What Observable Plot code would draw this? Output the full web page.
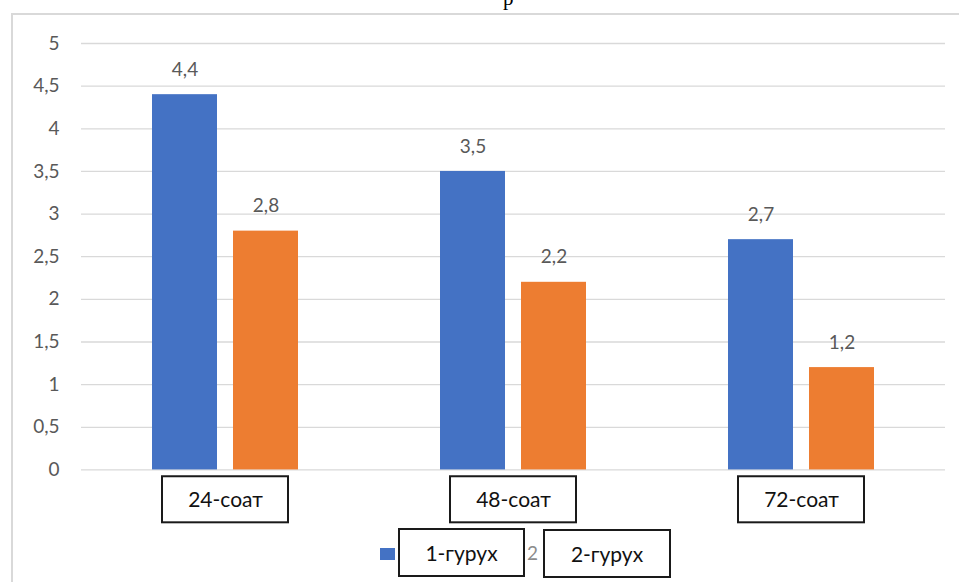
<!DOCTYPE html>
<html>
<head>
<meta charset="utf-8">
<script src="https://cdn.jsdelivr.net/npm/d3@7"></script>
<script src="https://cdn.jsdelivr.net/npm/@observablehq/plot@0.6"></script>
<style>
  html, body { margin: 0; padding: 0; background: #fff; }
  #wrap { position: relative; width: 959px; height: 582px; overflow: hidden; font-family: Lato, "Noto Sans", sans-serif; }
  #border { position: absolute; left: 11px; top: 13px; width: 960px; height: 600px; border-left: 2px solid #d9d9d9; border-top: 2px solid #d9d9d9; }
  #title { position: absolute; left: 503px; top: -14px; font-family: "Liberation Serif", serif; font-size: 21px; color: #000; }
  #chart { position: absolute; left: 0; top: 0; }
  .lbox { position: absolute; box-sizing: border-box; border: 2px solid #1a1a1a; background: #fff; color: #111; font-size: 21px; display: flex; align-items: center; justify-content: center; }
  .sw { position: absolute; }
</style>
</head>
<body>
<div id="wrap">
  <div id="border"></div>
  <div id="title">р</div>
  <div id="chart"></div>
  <div id="legend"></div>
</div>
<script>
const categories = ["24-соат", "48-соат", "72-соат"];
const series = ["1-гурух", "2-гурух"];
const group1 = [4.4, 3.5, 2.7];
const group2 = [2.8, 2.2, 1.2];
const yTicks = [0, 0.5, 1, 1.5, 2, 2.5, 3, 3.5, 4, 4.5, 5];
const colors = ["#4472C4", "#ED7D31"];

const data = [];
categories.forEach((c, i) => {
  data.push({cat: c, series: series[0], value: group1[i]});
  data.push({cat: c, series: series[1], value: group2[i]});
});
const fmt = v => String(v).replace(".", ",");

const chart = Plot.plot({
  width: 959,
  height: 527,
  marginTop: 43,
  marginBottom: 0,
  marginLeft: 81,
  marginRight: 14,
  style: {background: "transparent", color: "#595959", fontSize: "19px", fontFamily: "Lato, 'Noto Sans', sans-serif"},
  fx: {domain: categories, padding: 0, axis: null, label: null},
  x: {domain: series, paddingInner: 0.1975, paddingOuter: 0.8765, axis: null},
  y: {domain: [-0.675, 5], ticks: yTicks, tickFormat: fmt, tickSize: 0, tickPadding: 22, label: null},
  color: {domain: series, range: colors},
  marks: [
    Plot.ruleY(yTicks, {stroke: "#d9d9d9", strokeWidth: 1.3}),
    Plot.barY(data, {fx: "cat", x: "series", y: "value", fill: "series"}),
    Plot.text(data, {fx: "cat", x: "series", y: "value", text: d => fmt(d.value), dy: -25, fill: "#595959", fontSize: 19}),
    Plot.barY(categories, {fx: d => d, y1: -0.08, y2: -0.62, fill: "white", stroke: "#1a1a1a", strokeWidth: 2, insetLeft: 81, insetRight: 81}),
    Plot.text(categories, {fx: d => d, y: -0.35, text: d => d, fill: "#111", fontSize: 21})
  ]
});
document.getElementById("chart").appendChild(chart);

// Legend (HTML, below/over the bottom of the chart)
const legend = document.getElementById("legend");
const sw = document.createElement("div");
sw.className = "sw";
sw.style.cssText = `left:380px;top:548px;width:15px;height:12px;background:${colors[0]}`;
legend.appendChild(sw);
const sw2 = document.createElement("div");
sw2.className = "sw";
sw2.style.cssText = `left:548px;top:548px;width:15px;height:12px;background:${colors[1]}`;
legend.appendChild(sw2);
const b1 = document.createElement("div");
b1.className = "lbox";
b1.style.cssText = "left:398px;top:528px;width:127px;height:49px;";
b1.textContent = series[0];
legend.appendChild(b1);
const two = document.createElement("div");
two.style.cssText = "position:absolute;left:527px;top:541px;font-size:19px;color:#8c8c8c;";
two.textContent = "2";
legend.appendChild(two);
const b2 = document.createElement("div");
b2.className = "lbox";
b2.style.cssText = "left:543px;top:529px;width:128px;height:49px;";
b2.textContent = series[1];
legend.appendChild(b2);
</script>
</body>
</html>
